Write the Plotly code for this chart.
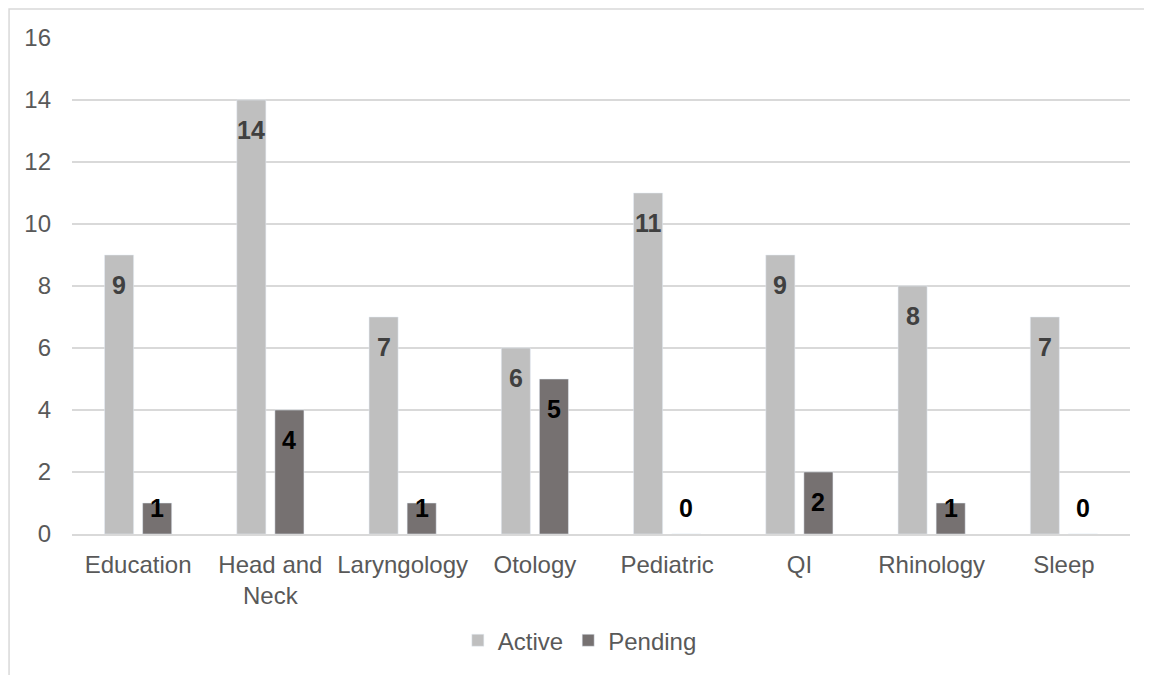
import plotly.graph_objects as go

categories = ["Education", "Head and<br>Neck", "Laryngology", "Otology", "Pediatric", "QI", "Rhinology", "Sleep"]
active = [9, 14, 7, 6, 11, 9, 8, 7]
pending = [1, 4, 1, 5, 0, 2, 1, 0]
series_names = ["Active", "Pending"]
y_ticks = [0, 2, 4, 6, 8, 10, 12, 14, 16]

FONT = "Liberation Sans, Arial, sans-serif"
C_ACTIVE = "#BFBFBF"
C_PENDING = "#767171"
GRID = "#D9D9D9"
TXT = "#595959"

fig = go.Figure()
fig.add_trace(go.Bar(name=series_names[0], x=categories, y=active, marker_color=C_ACTIVE))
fig.add_trace(go.Bar(name=series_names[1], x=categories, y=pending, marker_color=C_PENDING))

# data labels (inside end, Excel-like)
for vals, shift, col in [(active, -19, "#404040"), (pending, 19, "#000000")]:
    for c, v in zip(categories, vals):
        fig.add_annotation(x=c, y=max(v, 1.8), xref="x", yref="y", text=f"<b>{v}</b>",
                           showarrow=False, xshift=shift, yshift=-30, yanchor="middle",
                           font=dict(family=FONT, size=25, color=col))

# outer chart border (top and left visible)
fig.add_shape(type="rect", xref="paper", yref="paper", x0=-0.0595, x1=1.1, y0=-0.4, y1=1.0587,
              line=dict(color=GRID, width=1.5), fillcolor="rgba(0,0,0,0)", layer="below")

fig.update_layout(
    width=1144, height=667,
    margin=dict(l=64, r=22, t=30, b=139),
    paper_bgcolor="white", plot_bgcolor="white",
    barmode="group", bargap=0.424, bargroupgap=0.237,
    font=dict(family=FONT, size=24, color=TXT),
    showlegend=True,
    legend=dict(orientation="h", x=0.48, xanchor="center", y=-0.215, yanchor="middle",
                font=dict(family=FONT, size=24, color=TXT), itemwidth=30, traceorder="normal"),
)
fig.update_yaxes(range=[0, 16], tickvals=y_ticks, showgrid=True, gridcolor=GRID, gridwidth=1.5,
                 zeroline=False, showline=False, ticks="", ticklabelstandoff=20,
                 tickfont=dict(family=FONT, size=24, color=TXT))
fig.update_xaxes(showline=True, linecolor=GRID, linewidth=1.5, ticks="", showgrid=False,
                 ticklabelstandoff=8, tickfont=dict(family=FONT, size=24, color=TXT))

fig.write_html("out.html")
